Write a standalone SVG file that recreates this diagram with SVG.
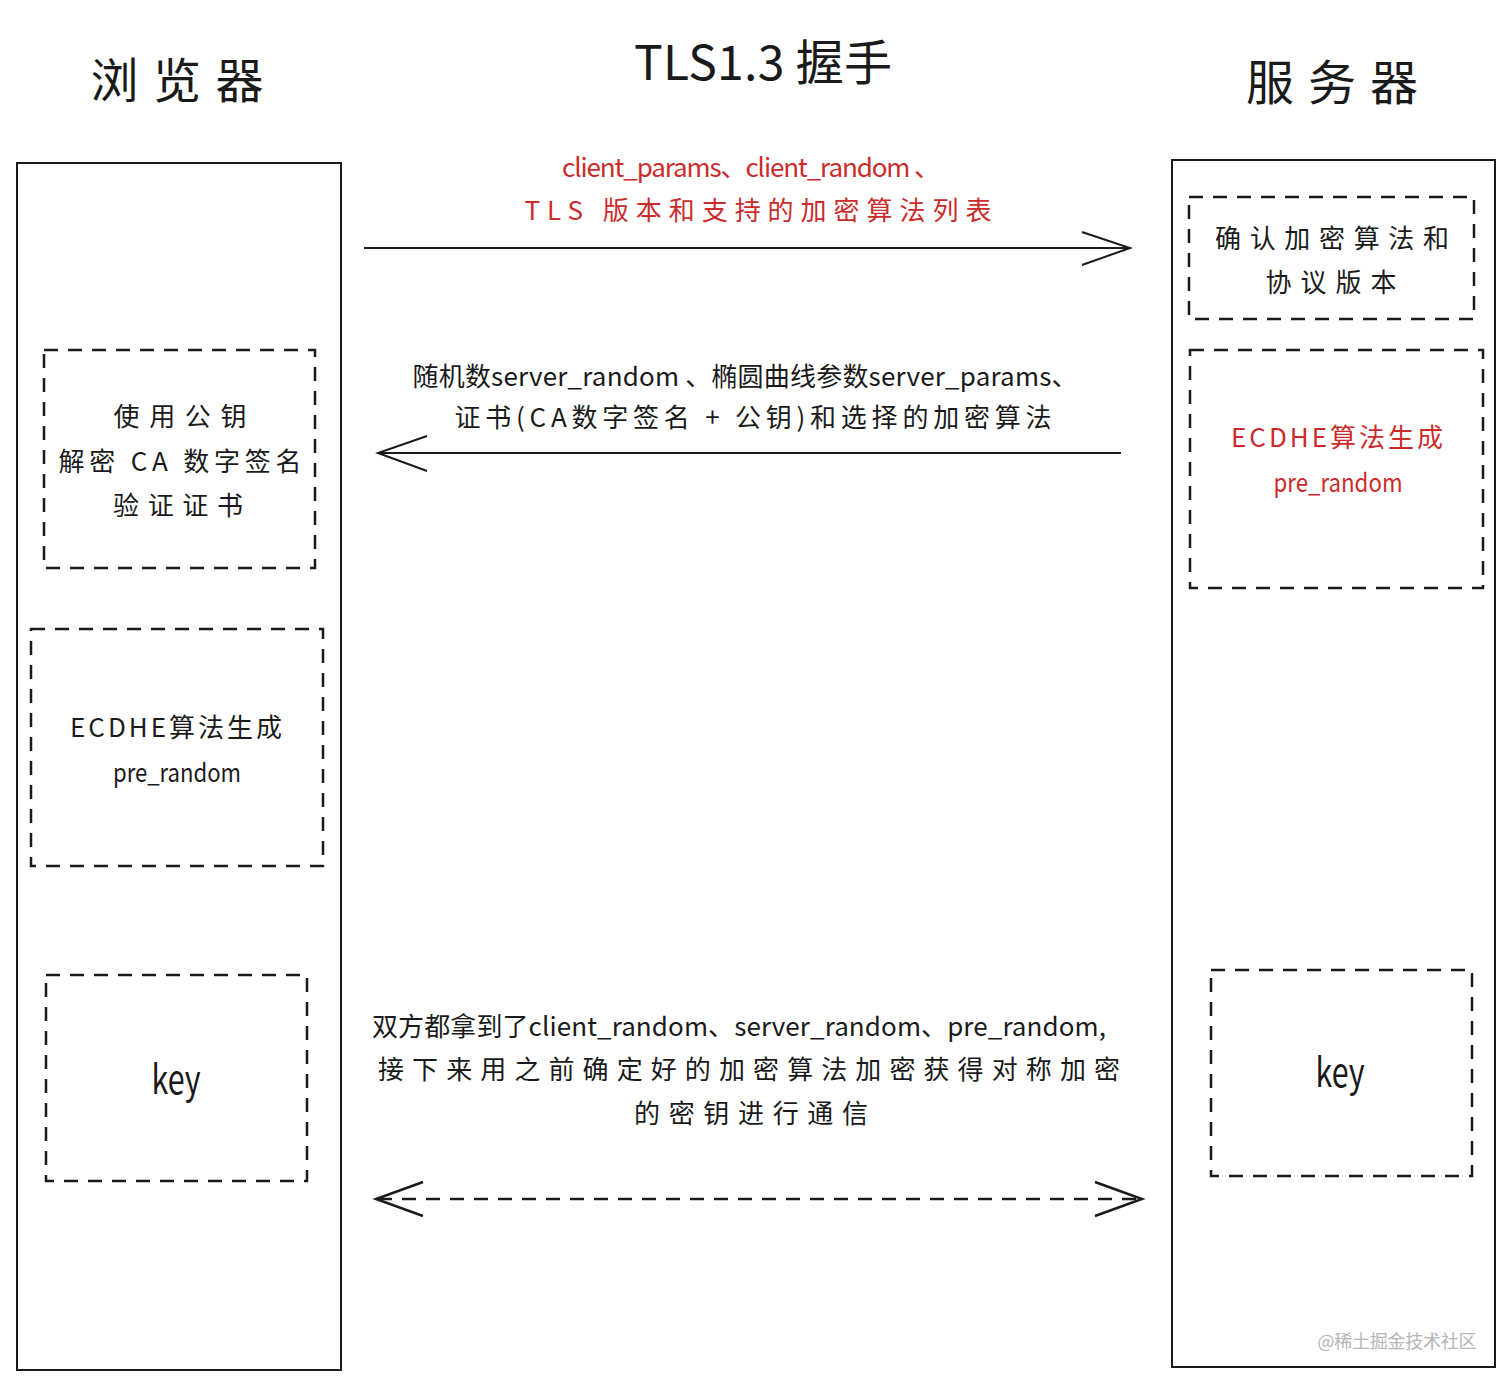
<svg xmlns="http://www.w3.org/2000/svg" width="1512" height="1387" viewBox="0 0 1512 1387">
<style>
.lane{fill:#fff;stroke:#1a1a1a;stroke-width:2}
.dbox{fill:none;stroke:#1a1a1a;stroke-width:2.5;stroke-dasharray:14 10}
.t{font-family:"Noto Sans CJK SC","Noto Sans",sans-serif;font-size:26px;fill:#1a1a1a;text-anchor:middle}
.r{fill:#cc2b2b}
.title{font-size:48px}
.key{font-size:40px}
.ln{stroke:#1a1a1a;stroke-width:2;fill:none}
.dl{stroke:#1a1a1a;stroke-width:2.5;fill:none;stroke-dasharray:14 10}
.wm{font-family:"Noto Sans CJK SC",sans-serif;font-size:18px;fill:#b5b5b5;text-anchor:middle}
</style>
<rect width="1512" height="1387" fill="#fff"/>
<g id="titles">
<text class="t title" x="177" y="98" textLength="173" lengthAdjust="spacing">浏览器</text>
<text class="t title" x="763" y="80" textLength="258" lengthAdjust="spacing">TLS1.3 握手</text>
<text class="t title" x="1332" y="100" textLength="172" lengthAdjust="spacing">服务器</text>
</g>
<g id="browser"><rect class="lane" x="17" y="163" width="324" height="1207"/></g>
<g id="server"><rect class="lane" x="1172" y="160" width="323" height="1207"/></g>
<g id="verify-cert">
<rect class="dbox" x="44" y="350" width="271" height="218"/>
<text class="t" x="180" y="426" textLength="133" lengthAdjust="spacing">使用公钥</text>
<text class="t" x="180" y="471" textLength="243" lengthAdjust="spacing">解密 CA 数字签名</text>
<text class="t" x="178" y="515" textLength="130" lengthAdjust="spacing">验证证书</text>
</g>
<g id="client-ecdhe">
<rect class="dbox" x="31" y="629" width="292" height="237"/>
<text class="t" x="176" y="737" textLength="212" lengthAdjust="spacing">ECDHE算法生成</text>
<text class="t" x="177" y="782" textLength="128" lengthAdjust="spacingAndGlyphs">pre_random</text>
</g>
<g id="client-key">
<rect class="dbox" x="46" y="975" width="261" height="206"/>
<text class="t key" x="176" y="1094" textLength="49" lengthAdjust="spacingAndGlyphs">key</text>
</g>
<g id="confirm">
<rect class="dbox" x="1189" y="197" width="285" height="122"/>
<text class="t" x="1332" y="248" textLength="234" lengthAdjust="spacing">确认加密算法和</text>
<text class="t" x="1331" y="292" textLength="131" lengthAdjust="spacing">协议版本</text>
</g>
<g id="server-ecdhe">
<rect class="dbox" x="1190" y="350" width="293" height="238"/>
<text class="t r" x="1337" y="447" textLength="212" lengthAdjust="spacing">ECDHE算法生成</text>
<text class="t r" x="1338" y="492" textLength="129" lengthAdjust="spacingAndGlyphs">pre_random</text>
</g>
<g id="server-key">
<rect class="dbox" x="1211" y="970" width="261" height="206"/>
<text class="t key" x="1340" y="1087" textLength="49" lengthAdjust="spacingAndGlyphs">key</text>
</g>
<g id="connectors">
<path class="ln" d="M364 248 H1130 M1082 232 L1130 248 L1082 265"/>
<path class="ln" d="M1121 453 H378 M427 436 L378 453 L427 471"/>
<path class="dl" d="M378 1199 H1140"/>
<path class="ln" style="stroke-width:2.5" d="M423 1182 L376 1199 L423 1216 M1095 1182 L1142 1199 L1095 1216"/>
</g>
<g id="labels">
<text class="t r" x="751" y="177" textLength="378" lengthAdjust="spacing">client_params、client_random 、</text>
<text class="t r" x="758" y="220" textLength="467" lengthAdjust="spacing">TLS 版本和支持的加密算法列表</text>
<text class="t" x="745" y="386" textLength="665" lengthAdjust="spacing">随机数server_random 、椭圆曲线参数server_params、</text>
<text class="t" x="753" y="427" textLength="597" lengthAdjust="spacing">证书(CA数字签名 + 公钥)和选择的加密算法</text>
<text class="t" x="739" y="1036" textLength="734" lengthAdjust="spacing">双方都拿到了client_random、server_random、pre_random,</text>
<text class="t" x="749" y="1079" textLength="742" lengthAdjust="spacing">接下来用之前确定好的加密算法加密获得对称加密</text>
<text class="t" x="751" y="1123" textLength="234" lengthAdjust="spacing">的密钥进行通信</text>
</g>
<text class="wm" x="1397" y="1348" textLength="159" lengthAdjust="spacing">@稀土掘金技术社区</text>
</svg>
